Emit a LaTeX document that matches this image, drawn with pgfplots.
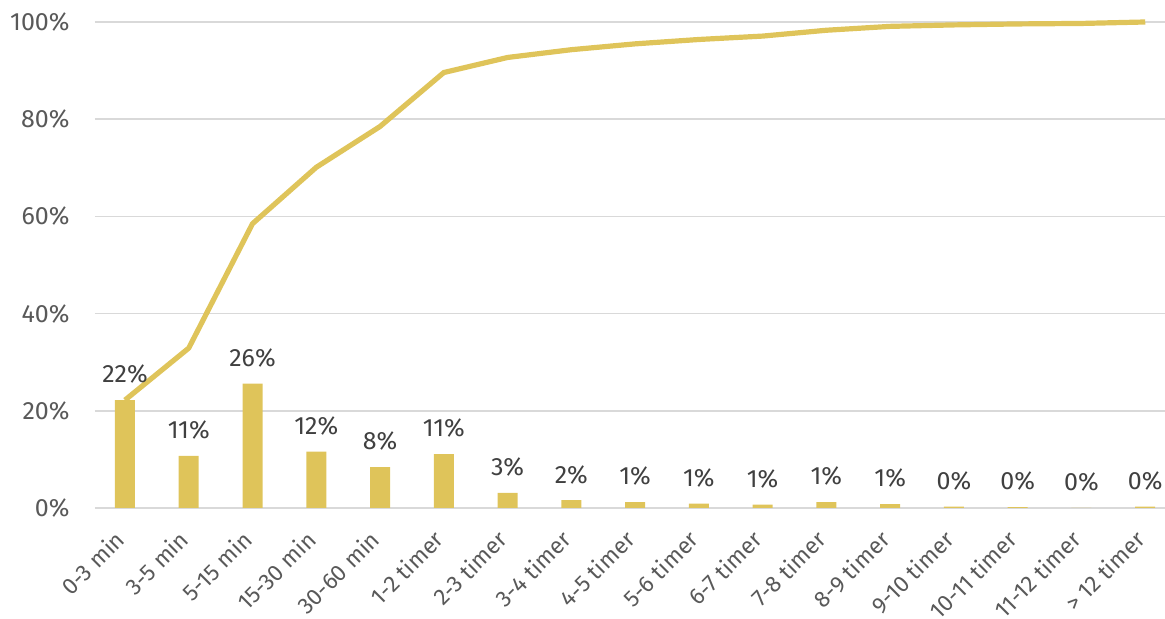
\documentclass[border=0pt]{standalone}
\usepackage{pgfplots}
\pgfplotsset{compat=1.18}
\usepackage{pgfplotstable}
\usepackage{fontspec}
\setmainfont{Fira Sans}
\definecolor{gold}{HTML}{DFC45A}
\definecolor{gridc}{HTML}{D9D9D9}
\definecolor{ticktxt}{HTML}{595959}
\definecolor{lbltxt}{HTML}{404040}

\pgfplotstableread{
x bar cum
0 22.2 22.2
1 10.7 32.9
2 25.6 58.5
3 11.6 70.1
4 8.4 78.5
5 11.1 89.6
6 3.1 92.7
7 1.6 94.3
8 1.2 95.5
9 0.9 96.4
10 0.7 97.1
11 1.2 98.3
12 0.8 99.1
13 0.3 99.4
14 0.2 99.6
15 0.05 99.7
16 0.3 100
}\datatable

\begin{document}
\begin{tikzpicture}
\begin{axis}[name=ax, scale only axis, width=535pt, height=243pt,
  xmin=-0.47, xmax=16.31, ymin=0, ymax=100,
  clip=false,
  axis line style={draw=none},
  major tick length=0pt,
  ymajorgrids, grid style={gridc, line width=0.8pt},
  ytick={0,20,40,60,80,100},
  yticklabels={0\%,20\%,40\%,60\%,80\%,100\%},
  yticklabel style={font=\fontsize{12.5}{15}\selectfont, text=ticktxt, inner sep=0pt, xshift=-12.5pt},
  xtick={0,1,...,16},
  xticklabels={0-3 min,3-5 min,5-15 min,15-30 min,30-60 min,1-2 timer,2-3 timer,3-4 timer,4-5 timer,5-6 timer,6-7 timer,7-8 timer,8-9 timer,9-10 timer,10-11 timer,11-12 timer,> 12 timer},
  xticklabel style={font=\fontsize{11.5}{14}\selectfont, text=ticktxt, rotate=45, anchor=north east, inner sep=0pt, xshift=-11.2pt, yshift=-3.2pt},
]
\addplot[ybar, bar width=10pt, fill=gold, draw=none,
  point meta=y,
  nodes near coords={\pgfmathprintnumber[fixed,precision=0,assume math mode=true]{\pgfplotspointmeta}\%},
  every node near coord/.style={font=\fontsize{12.5}{15}\selectfont, text=lbltxt, anchor=south, inner sep=0pt, yshift=8pt}
] table[x=x, y=bar] {\datatable};
\addplot[gold, line width=2.6pt, line join=round, no markers] table[x=x, y=cum] {\datatable};
\end{axis}
\pgfresetboundingbox
\path ([shift={(-47.5pt,-55.5pt)}]ax.south west) rectangle ([shift={(0pt,11pt)}]ax.north east);
\end{tikzpicture}
\end{document}
